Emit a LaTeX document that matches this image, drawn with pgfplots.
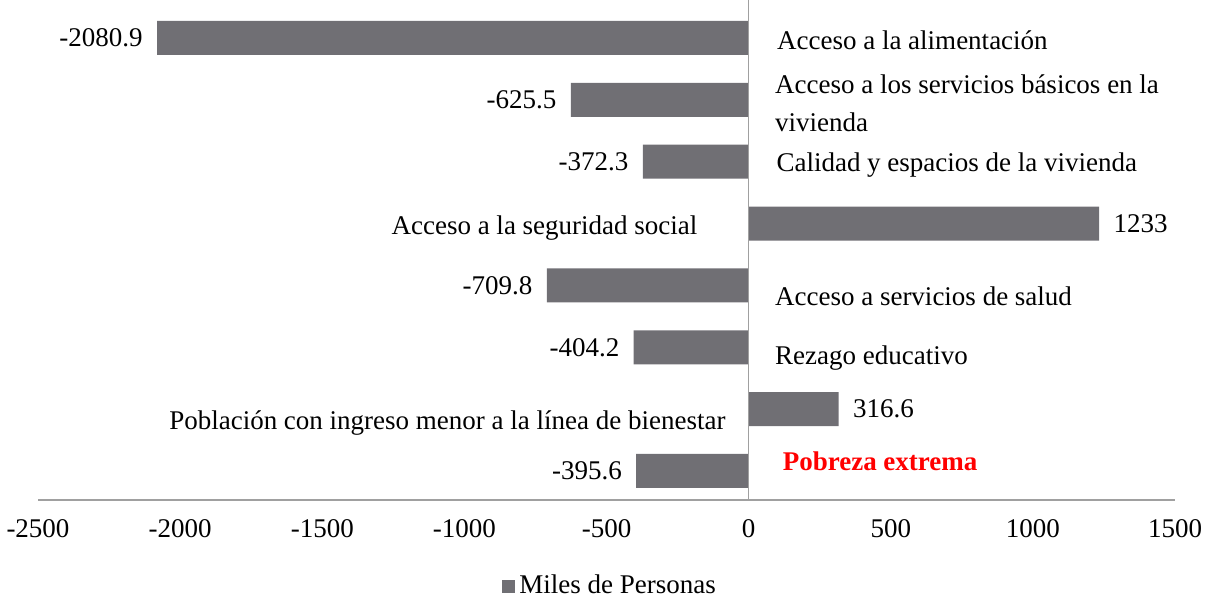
\documentclass[border=0pt]{standalone}
\usepackage{fontspec}
\setmainfont{Liberation Serif}
\usepackage{pgfplots}
\pgfplotsset{compat=1.18}
\definecolor{barc}{RGB}{112,111,116}
\definecolor{axc}{RGB}{160,160,160}
\newcommand{\fs}{\fontsize{13.5}{19}\selectfont}
\begin{document}
\fs
\begin{tikzpicture}
\begin{axis}[
  scale only axis, width=568.5pt, height=250pt,
  xbar, bar width=17pt,
  xmin=-2500, xmax=1500, ymin=0.531, ymax=8.614,
  xtick={-2500,-2000,...,1500},
  axis x line*=bottom, axis y line=none,
  x axis line style={draw=axc, line width=0.8pt},
  major tick length=0pt,
  ytick=\empty,
  clip=false,
  /pgf/number format/assume math mode=true,
  /pgf/number format/1000 sep={},
  xticklabel style={font=\fs, yshift=-5pt},
  legend style={at={(0.504,-0.172)}, anchor=center, draw=none, fill=none, font=\fs},
]
\addplot[fill=barc, draw=none,
  nodes near coords, point meta=explicit symbolic,
  visualization depends on={\thisrow{x} \as \rawx},
  every node near coord/.append style={font=\fs, text=black, inner sep=7pt},
  every node near coord/.append code={\ifdim\rawx pt<0pt \pgfkeysalso{/tikz/anchor=east}\else\pgfkeysalso{/tikz/anchor=west}\fi},
  legend image code/.code={\fill[barc] (0pt,-3.25pt) rectangle (6.5pt,3.25pt);}]
table[x=x, y=y, meta=lab] {
x y lab
-2080.9 8 -2080.9
-625.5 7 -625.5
-372.3 6 -372.3
1233 5 1233
-709.8 4 -709.8
-404.2 3 -404.2
316.6 2 316.6
-395.6 1 -395.6
};
\legend{Miles de Personas}
\draw[axc, line width=0.8pt] (axis cs:0,0.531) -- (axis cs:0,8.614);
\node[anchor=west, font=\fs] at (axis cs:67,7.97) {Acceso a la alimentación};
\node[anchor=west, font=\fs, align=left] at (axis cs:60,6.95) {Acceso a los servicios básicos en la\\vivienda};
\node[anchor=west, font=\fs] at (axis cs:65,5.95) {Calidad y espacios de la vivienda};
\node[anchor=east, font=\fs] at (axis cs:-147,4.92) {Acceso a la seguridad social};
\node[anchor=west, font=\fs] at (axis cs:60,3.82) {Acceso a servicios de salud};
\node[anchor=west, font=\fs] at (axis cs:60,2.82) {Rezago educativo};
\node[anchor=east, font=\fs] at (axis cs:-48,1.77) {Población con ingreso menor a la línea de bienestar};
\node[anchor=west, font=\fs\bfseries, text=red] at (axis cs:87,1.15) {Pobreza extrema};
\end{axis}
\pgfresetboundingbox
\path (-19pt,-50.5pt) rectangle (587.5pt,250pt);
\end{tikzpicture}
\end{document}
